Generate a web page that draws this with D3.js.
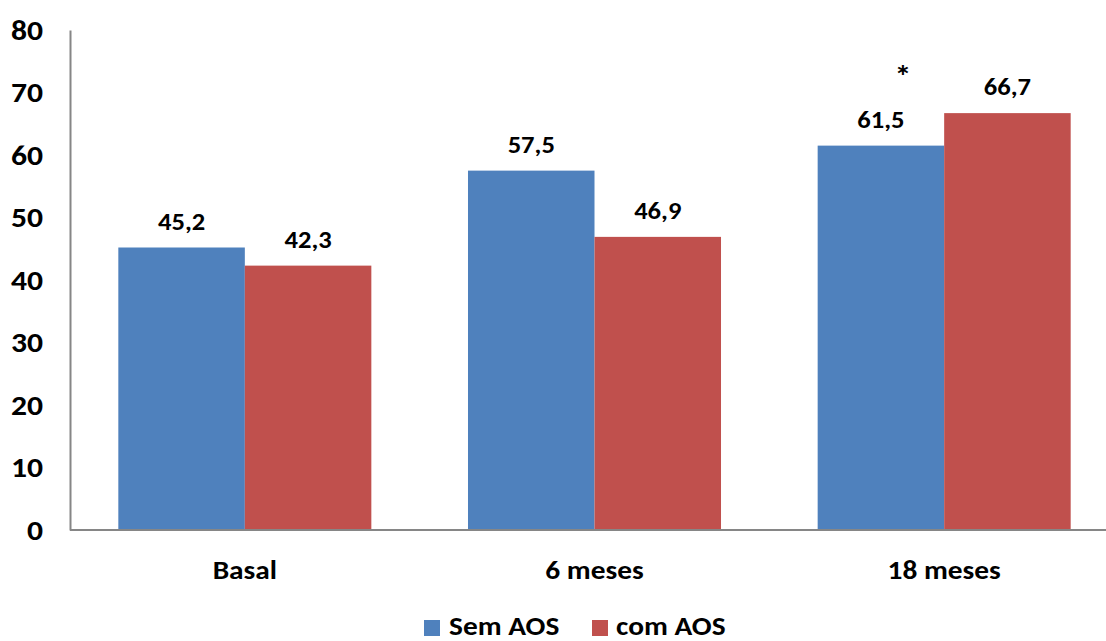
<!DOCTYPE html>
<html>
<head>
<meta charset="utf-8">
<script src="https://cdn.jsdelivr.net/npm/d3@7"></script>
<style>
  html, body { margin: 0; padding: 0; background: #fff; }
  svg { display: block; font-family: Carlito, Lato, "Open Sans", sans-serif; font-weight: bold; }
</style>
</head>
<body>
<svg id="chart" width="1106" height="641"></svg>
<script>
const categories = ["Basal", "6 meses", "18 meses"];
const seriesNames = ["Sem AOS", "com AOS"];
const semAOS = [45.2, 57.5, 61.5];
const comAOS = [42.3, 46.9, 66.7];
const yTicks = [0, 10, 20, 30, 40, 50, 60, 70, 80];
const annotations = [{ category: "18 meses", series: "Sem AOS", text: "*" }];
const colors = ["#4F81BD", "#C0504D"];

const svg = d3.select("#chart");
const mLeft = 70, mRight = 1119, mTop = 30, mBottom = 530;
const SX = 1.13; // horizontal text stretch seen in the reference

function stretch(sel) {
  sel.each(function () {
    const t = d3.select(this);
    const x = +t.attr("x") || 0, y0 = +t.attr("y") || 0;
    t.attr("x", 0).attr("y", 0).attr("transform", `translate(${x},${y0}) scale(${SX},1)`);
  });
}

const x0 = d3.scaleBand().domain(categories).range([mLeft, mRight]).paddingInner(0).paddingOuter(0);
const x1 = d3.scaleBand().domain(seriesNames).range([0, x0.bandwidth()]).paddingInner(0).paddingOuter(0.382);
const y = d3.scaleLinear().domain([0, 80]).range([mBottom, mTop]);
const color = d3.scaleOrdinal().domain(seriesNames).range(colors);

const values = { "Sem AOS": semAOS, "com AOS": comAOS };
const fmt = v => v.toFixed(1).replace(".", ",");

// bars
const groups = svg.append("g").selectAll("g").data(categories).join("g")
  .attr("transform", d => `translate(${x0(d)},0)`);

groups.selectAll("rect")
  .data((c, i) => seriesNames.map(s => ({ s, v: values[s][i], c })))
  .join("rect")
  .attr("x", d => x1(d.s))
  .attr("y", d => y(d.v))
  .attr("width", x1.bandwidth())
  .attr("height", d => y(0) - y(d.v))
  .attr("fill", d => color(d.s));

groups.selectAll("text.val")
  .data((c, i) => seriesNames.map(s => ({ s, v: values[s][i], c })))
  .join("text")
  .attr("class", "val")
  .attr("x", d => x1(d.s) + x1.bandwidth() / 2)
  .attr("y", d => y(d.v) - 18)
  .attr("text-anchor", "middle")
  .attr("font-size", 23.5)
  .attr("fill", "#000")
  .text(d => fmt(d.v))
  .call(stretch);

// annotation asterisk
annotations.forEach(a => {
  const i = categories.indexOf(a.category);
  const v = values[a.series][i];
  svg.append("text")
    .attr("x", x0(a.category) + x1(a.series) + x1.bandwidth() / 2 + 22)
    .attr("y", y(v) - 60)
    .attr("text-anchor", "middle")
    .attr("font-size", 30)
    .attr("fill", "#000")
    .text(a.text)
    .call(stretch);
});

// y axis
const yAxis = svg.append("g")
  .attr("transform", `translate(${mLeft},0)`)
  .call(d3.axisLeft(y).tickValues(yTicks).tickSize(0).tickSizeOuter(0).tickPadding(27));
yAxis.attr("font-family", null).attr("font-size", null);
yAxis.select(".domain").attr("stroke", "#868686").attr("stroke-width", 2);
yAxis.selectAll("text").attr("font-size", 28).attr("fill", "#000").attr("dy", "0.33em").call(stretch);

// x axis
const xAxis = svg.append("g")
  .attr("transform", `translate(0,${mBottom})`)
  .call(d3.axisBottom(x0).tickSize(0).tickSizeOuter(0).tickPadding(31));
xAxis.attr("font-family", null).attr("font-size", null);
xAxis.select(".domain").remove();
xAxis.append("line").attr("x1", mLeft).attr("x2", 1106).attr("y1", 0).attr("y2", 0)
  .attr("stroke", "#868686").attr("stroke-width", 2);
xAxis.selectAll("text").attr("font-size", 26).attr("fill", "#000").call(stretch);

// legend
const legendItems = [
  { name: "Sem AOS", sx: 424, tx: 449 },
  { name: "com AOS", sx: 592, tx: 616 }
];
const lg = svg.append("g");
legendItems.forEach(it => {
  lg.append("rect").attr("x", it.sx).attr("y", 620).attr("width", 16).attr("height", 16)
    .attr("fill", color(it.name));
  lg.append("text").attr("x", it.tx).attr("y", 635).attr("font-size", 26).attr("fill", "#000").text(it.name)
    .call(stretch);
});
</script>
</body>
</html>
